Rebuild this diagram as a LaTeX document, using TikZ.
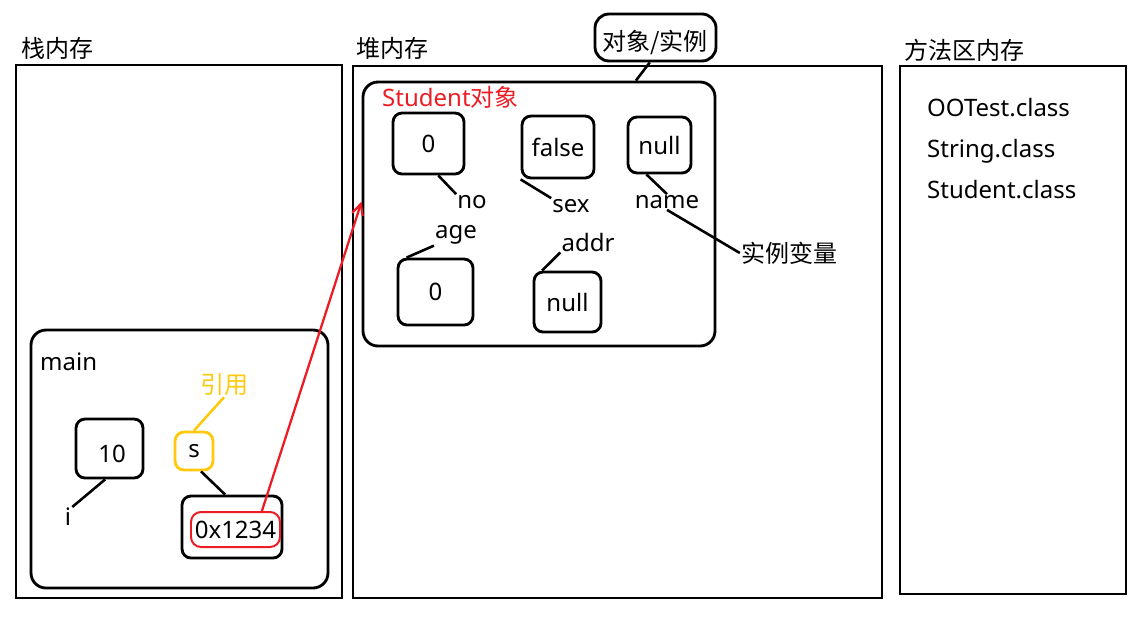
\documentclass[tikz,border=0pt]{standalone}
\usepackage{fontspec}
\setmainfont{Noto Sans}
\newfontfamily\cjk{Noto Sans CJK SC}
\usetikzlibrary{arrows.meta}
\definecolor{memred}{RGB}{237,28,36}
\definecolor{refgold}{RGB}{255,201,14}
\tikzset{
	cell/.style={draw, line width=1mm, rounded corners=9pt, inner sep=0pt},
	tag/.style={inner sep=1pt},
	link/.style={line width=0.9mm},
}

\begin{document}
\begin{tikzpicture}[x=1pt, y=-1pt, font=\fontsize{24}{28}\selectfont]
		%%%%% START %%%%%
		\useasboundingbox (0,0) rectangle (1138,616);
		
		\draw[line width=0.9mm] (16,65) rectangle (342,598);
		\draw[line width=0.9mm] (353,66) rectangle (882,598);
		\draw[line width=0.9mm] (900,66) rectangle (1126,594);
		\node[tag, anchor=west] (stacktitle) at (20,48) {\cjk 栈内存};
		\node[tag, anchor=west] (heaptitle) at (355,48) {\cjk 堆内存};
		\node[tag, anchor=west] (methodtitle) at (903,50) {\cjk 方法区内存};
		
		\node[tag, anchor=base west] (ootest) at (926,116) {OOTest.class};
		\node[tag, anchor=base west] (string) at (926,157) {String.class};
		\node[tag, anchor=base west] (student) at (926,198) {Student.class};
		
		\node[cell, rounded corners=15pt, minimum width=352, minimum height=264] (stu) at (539,214) {};
		\node[tag, anchor=west, text=memred] (stutitle) at (381,97) {Student{\cjk 对象}};
		\node[cell, rounded corners=14pt, minimum width=121, minimum height=47] (inst) at (655.5,37.5) {};
		\node[tag] (insttext) at (655,42) {\cjk 对象/实例};
		\draw[link] (inst.-103) -- (stu.54.6);
		
		\node[cell, minimum width=71, minimum height=61] (no) at (428.5,143.5) {0};
		\node[cell, minimum width=72, minimum height=62] (sex) at (558,147) {false};
		\node[cell, minimum width=63, minimum height=56] (name) at (659.5,145) {null};
		\node[cell, minimum width=75, minimum height=66] (age) at (435.5,292) {0};
		\node[cell, minimum width=67, minimum height=60] (addr) at (567.5,302) {null};
		
		\node[tag] (lno) at (472,202) {no};
		\node[tag] (lsex) at (571,206) {sex};
		\node[tag] (lname) at (667,202) {name};
		\node[tag] (lage) at (456,235) {age};
		\node[tag] (laddr) at (588,242) {addr};
		\node[tag] (field) at (789,253) {\cjk 实例变量};
		
		\draw[link] (no.-73) -- (lno.north west);
		\draw[link] (sex.south west) -- (lsex.north west);
		\draw[link] (name.-114) -- (lname.north);
		\draw[link] (lname.south) -- (field.west);
		\draw[link] (lage.south west) -- (age.130);
		\draw[link] (laddr.south west) -- (addr.129);
		
		\node[cell, rounded corners=15pt, minimum width=297, minimum height=258] (main) at (179.5,459) {};
		\node[tag, anchor=west] (maintitle) at (39,362) {main};
		
		\node[cell, minimum width=67, minimum height=59] (ival) at (109.5,448.5) {};
		\node[tag] (ivaltext) at (112,454) {10};
		\node[tag] (li) at (68,517) {i};
		\draw[link] (ival.-98) -- (li.north east);
		
		\node[tag, text=refgold] (ref) at (224,385) {\cjk 引用};
		\node[cell, draw=refgold, minimum width=38, minimum height=38] (sval) at (194,451) {s};
		\draw[link, refgold] (ref.south) -- (sval.north);
		
		\node[cell, minimum width=100, minimum height=62] (addrbox) at (232,527) {};
		\node[cell, draw=memred, line width=0.7mm, rounded corners=10pt, minimum width=89, minimum height=35] (ptr) at (235.5,529.5) {0x1234};
		\draw[link] (sval.-71.5) -- (addrbox.102.7);
		\draw[line width=0.8mm, memred, -{Straight Barb[length=11pt, width=11pt]}] (ptr.35.5) -- (stu.176);
		
		%%%%% END %%%%%
\end{tikzpicture}
\end{document}
